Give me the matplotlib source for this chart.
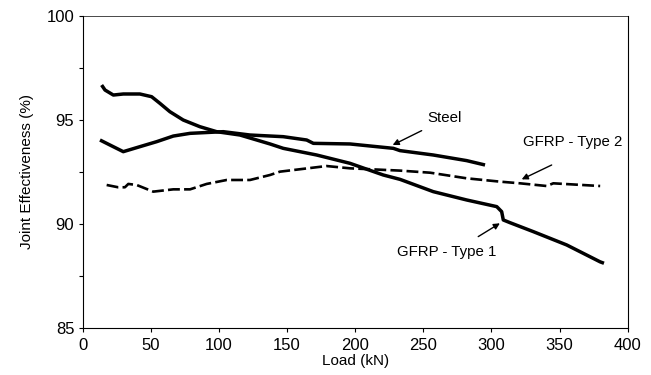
import matplotlib
matplotlib.use('Agg')
import matplotlib.pyplot as plt

plt.rcParams['font.family'] = ['Liberation Sans', 'DejaVu Sans']

# Curvas (Load en kN, efectividad en %)
steel_x = [12.7, 20, 29.8, 42, 54.3, 66.5, 78.8, 103.2, 122.8, 147.2, 164.4, 169.3,
           196.2, 228, 232.9, 257.3, 281.8, 295.3]
steel_y = [94.03, 93.79, 93.47, 93.71, 93.95, 94.22, 94.35, 94.43, 94.27, 94.19, 94.03, 93.87,
           93.84, 93.63, 93.52, 93.31, 93.04, 92.83]

type1_x = [13.9, 16.4, 22.5, 29.8, 42, 50.6, 56.7, 64, 73.8, 86, 98.3, 115.4, 137.5, 147.2,
           171.7, 196.2, 220.6, 232.9, 257.3, 281.8, 303.9, 307.5, 308.7, 313.6, 330.7,
           355.2, 379.7, 382.6]
type1_y = [96.67, 96.43, 96.19, 96.24, 96.24, 96.11, 95.79, 95.39, 94.99, 94.67, 94.43, 94.27,
           93.84, 93.63, 93.31, 92.91, 92.35, 92.14, 91.55, 91.15, 90.83, 90.59, 90.19, 90.06,
           89.63, 88.99, 88.18, 88.11]

type2_x = [17.6, 26, 31, 33.5, 39.6, 51.8, 66.5, 78.8, 91, 105.7, 122.8, 137.5, 144.8, 179,
           196.2, 232.9, 255, 281.8, 306.3, 321, 340.6, 345.4, 379.8]
type2_y = [91.87, 91.76, 91.76, 91.92, 91.87, 91.55, 91.66, 91.66, 91.92, 92.11, 92.11, 92.35,
           92.51, 92.78, 92.67, 92.56, 92.46, 92.19, 92.03, 91.95, 91.82, 91.95, 91.82]

# Etiquetas: (texto, posición del texto, cola de la flecha, punta de la flecha)
etiquetas = [
    ('Steel', (265.9, 95.09), (248.8, 94.48), (227.5, 93.79)),
    ('GFRP - Type 2', (359.9, 93.95), (344.2, 92.83), (322.2, 92.14)),
    ('GFRP - Type 1', (267.2, 88.66), (290.3, 89.39), (306.2, 90.03)),
]

fig = plt.figure(figsize=(6.51, 3.75), dpi=100)
ax = fig.add_axes([0.127, 0.1253, 0.8372, 0.8328])

ax.plot(steel_x, steel_y, color='black', lw=2.5, solid_capstyle='butt')
ax.plot(type1_x, type1_y, color='black', lw=2.5, solid_capstyle='butt')
ax.plot(type2_x, type2_y, color='black', lw=1.9, dashes=(4.5, 1.6))

for texto, pos, cola, punta in etiquetas:
    ax.text(pos[0], pos[1], texto, fontsize=10.8, ha='center', va='center')
    ax.annotate('', xy=punta, xytext=cola,
                arrowprops=dict(arrowstyle='-|>', color='black', lw=1.0,
                                mutation_scale=9, shrinkA=0, shrinkB=0))

ax.set_xlim(0, 400)
ax.set_ylim(85, 100)
ax.set_xticks([0, 50, 100, 150, 200, 250, 300, 350, 400])
ax.set_yticks([85, 90, 95, 100])
ax.set_yticks([87.5, 92.5, 97.5], minor=True)
ax.tick_params(axis='both', which='both', direction='out', length=3, width=0.8,
               labelsize=12, pad=3)
ax.tick_params(axis='x', pad=4)
for s in ax.spines.values():
    s.set_linewidth(0.8)
ax.spines['top'].set_linewidth(0.5)

ax.set_xlabel('Load (kN)', fontsize=11, labelpad=1)
ax.set_ylabel('Joint Effectiveness (%)', fontsize=11, labelpad=9)

plt.savefig('out.png', dpi=100)
